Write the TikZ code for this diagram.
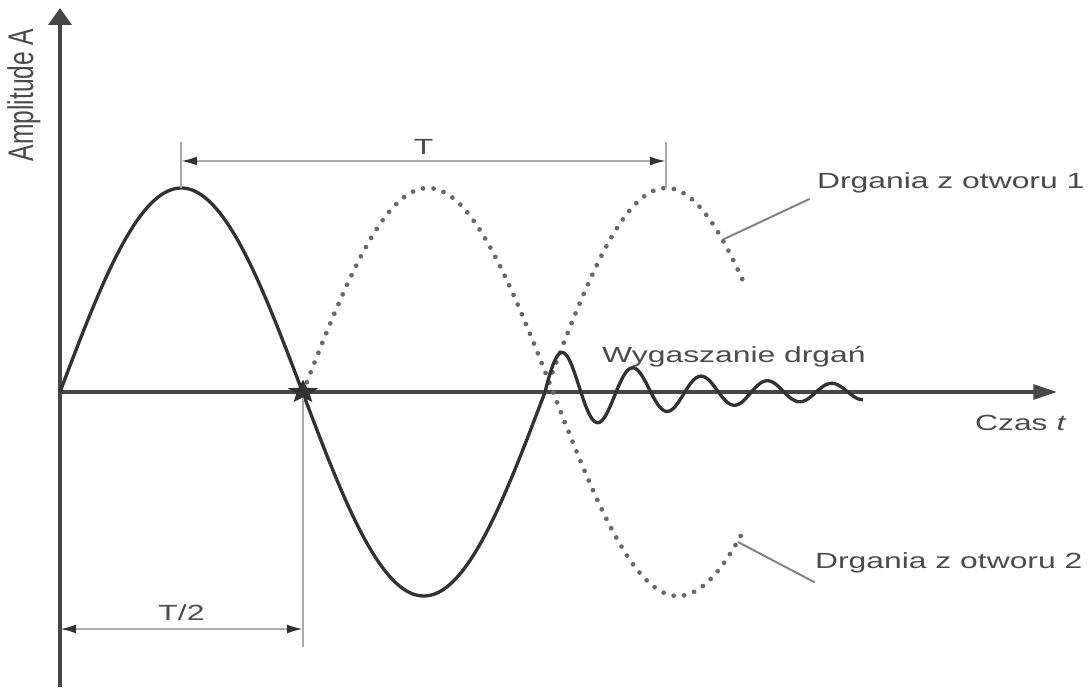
\documentclass[tikz,border=0pt]{standalone}
\usepackage{fontspec}
\setmainfont{Liberation Sans}
\newfontfamily\widesans[FakeStretch=1.45]{Liberation Sans}
\usetikzlibrary{arrows.meta,positioning,shapes.geometric}
\definecolor{wavegray}{RGB}{50,50,50}
\definecolor{axisgray}{RGB}{70,70,70}
\definecolor{dotgray}{RGB}{105,105,105}
\definecolor{dimgray}{RGB}{170,170,170}
\definecolor{txtgray}{RGB}{75,75,75}
\tikzset{
  wave/.style={wavegray, line width=1.9pt},
  dotwave/.style={dotgray, line width=2.7pt, line cap=round, dash pattern=on 0pt off 6pt},
  tickline/.style={dimgray, line width=1.2pt},
  dimline/.style={dimgray, line width=1.2pt,
    {Latex[length=9pt,width=5pt,color=wavegray]}-{Latex[length=9pt,width=5pt,color=wavegray]}},
  leader/.style={gray, line width=1.1pt},
  lbl/.style={text=txtgray, font=\widesans\fontsize{12.5}{14}\selectfont, inner sep=1pt},
}

\begin{document}
\begin{tikzpicture}[x=0.02cm,y=0.02cm]
    \useasboundingbox (-60,-295) rectangle (1031,392);

    % Axes
    \coordinate (O) at (0,0);
    \coordinate (ybot) at (0,-295);
    \coordinate (ytop) at (0,384);
    \coordinate (xtip) at (997,0);
    \draw[axisgray, line width=1.9pt, -{Triangle[length=9.6pt,width=13pt]}] (ybot) -- (ytop);
    \draw[axisgray, line width=1.9pt, -{Triangle[length=13.5pt,width=8.5pt]}] (O) -- (xtip);

    % Dotted waves (0.72 = 360/500, 0.742268 = 360/485)
    \draw[dotwave, smooth, samples=150, domain=243:685]
        plot (\x,{204*sin(0.72*(\x-243))});
    \draw[dotwave, smooth, samples=80, domain=485:685]
        plot (\x,{204*sin(0.742268*\x)});

    % Solid wave and damping
    \draw[wave, smooth, samples=200, domain=0:485]
        plot (\x,{204*sin(0.742268*\x)});
    \draw[wave, smooth, samples=260, domain=0:318]
        plot ({485+\x},{(40*exp(-\x/120)+5)*sin(4.977*\x+12.31*(\x/100)^2)});

    % Period T
    \coordinate (pk1) at (121,204);
    \coordinate (pk2) at (606,204);
    \coordinate (tk1) at (121,250);
    \coordinate (tk2) at (606,250);
    \coordinate (da) at (121,231);
    \coordinate (db) at (606,231);
    \draw[tickline] (pk1) -- (tk1);
    \draw[tickline] (pk2) -- (tk2);
    \draw[dimline] (da) -- node[lbl, above=2pt] (lblT) {T} (db);

    % Half period T/2
    \coordinate (hbot) at (243,-255);
    \coordinate (ha) at (0,-237);
    \coordinate (hc) at (243,-237);
    \draw[tickline] (243,0) -- (hbot);
    \draw[dimline] (ha) -- node[lbl, above=3pt] (lblHalf) {T/2} (hc);
    \node[star, star points=5, star point ratio=2.3, fill=wavegray, inner sep=0pt,
          minimum size=14pt, xscale=1.3] (cross) at (243,0) {};

    % Labels
    \node[text=txtgray, inner sep=1pt, rotate=90, font=\fontsize{14}{16}\selectfont]
        (lblAmp) at (-36,297) {\scalebox{1}[1.45]{Amplitude A}};
    \node[lbl, anchor=west] (lblCzas) at (913,-31) {Czas \textit{t}};
    \node[lbl, anchor=west] (lblWyg) at (540,35) {Wygaszanie drgań};
    \node[lbl, anchor=west] (otw1) at (755,209) {Drgania z otworu 1};
    \node[lbl, anchor=west] (otw2) at (753,-171) {Drgania z otworu 2};

    % Leaders
    \coordinate (c1) at (662,152);
    \coordinate (c2) at (678,-150);
    \draw[leader] ([shift={(-3pt,-2pt)}]otw1.south west) -- (c1);
    \draw[leader] ([shift={(1pt,-4pt)}]otw2.south west) -- (c2);

\end{tikzpicture}
\end{document}
